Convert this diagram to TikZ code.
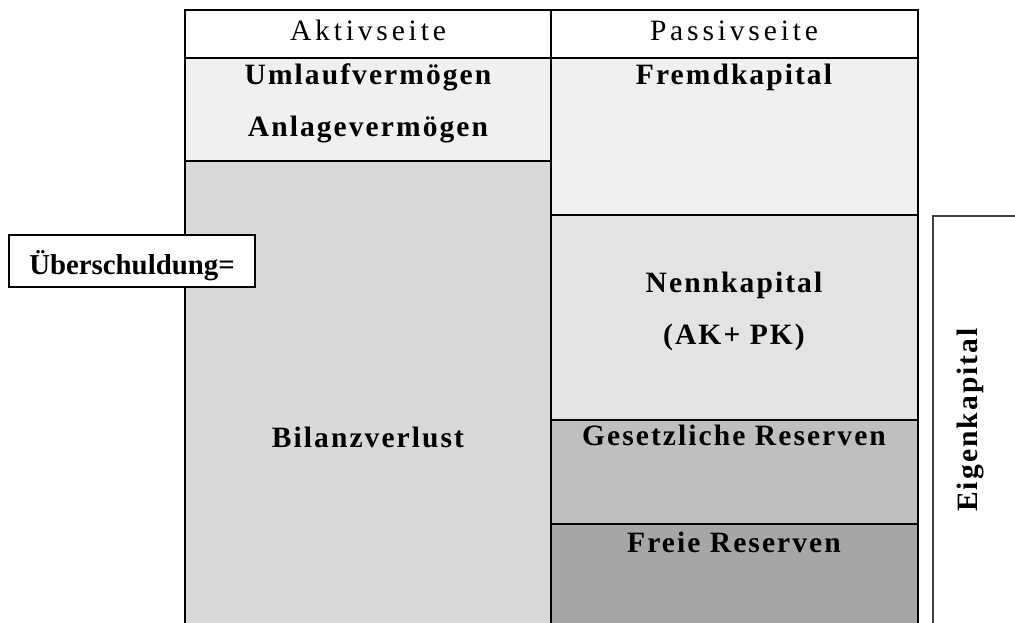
\documentclass[tikz,border=0pt]{standalone}
\usepackage{fontspec}
\setmainfont{Liberation Serif}
\newfontfamily\sperr[LetterSpace=7]{Liberation Serif}
\newfontfamily\sperrtitel[LetterSpace=13]{Liberation Serif}

\begin{document}
\begin{tikzpicture}[x=0.025cm,y=-0.025cm,line width=1.3pt,
  titel/.style={font=\fontsize{21}{24}\selectfont\sperrtitel,anchor=base},
  posten/.style={font=\fontsize{21}{24}\selectfont\sperr\bfseries,anchor=base}]
  \useasboundingbox (0,0) rectangle (1015,623);
  \clip (0,0) rectangle (1015,623);
  % Aktivseite
  \draw[fill=white] (185,10) rectangle (551,58);
  \draw[fill=black!6] (185,58) rectangle (551,161);
  \draw[fill=black!15] (185,161) rectangle (551,640);
  \node[titel] (aktiv) at (368,41) {Aktivseite};
  \node[posten] (umlauf) at (368,85) {Umlaufvermögen};
  \node[posten] (anlage) at (368,137) {Anlagevermögen};
  \node[posten] (verlust) at (368,447) {Bilanzverlust};
  % Passivseite
  \draw[fill=white] (551,10) rectangle (918,58);
  \draw[fill=black!6] (551,58) rectangle (918,215);
  \draw[fill=black!11] (551,215) rectangle (918,420);
  \draw[fill=black!25] (551,420) rectangle (918,524);
  \draw[fill=black!35] (551,524) rectangle (918,640);
  \node[titel] (passiv) at (734,41) {Passivseite};
  \node[posten] (fremd) at (734,85) {Fremdkapital};
  \node[posten] (nenn) at (734,293) {Nennkapital};
  \node[posten] (akpk) at (734,345) {(AK+ PK)};
  \node[posten] (gesetz) at (734,445) {Gesetzliche Reserven};
  \node[posten] (frei) at (734,552) {Freie Reserven};
  % Klammer rechts
  \draw[black!75,line width=1.5pt] (933,650) |- (1040,216);
  \node[posten,rotate=90] (eigen) at (977,420) {Eigenkapital};
  % Kasten links
  \draw[fill=white,line width=1.1pt] (9,235) rectangle (255,287);
  \node[font=\fontsize{20.5}{24}\selectfont\bfseries,anchor=base] (ueber) at (132,275) {Überschuldung=};
\end{tikzpicture}
\end{document}
